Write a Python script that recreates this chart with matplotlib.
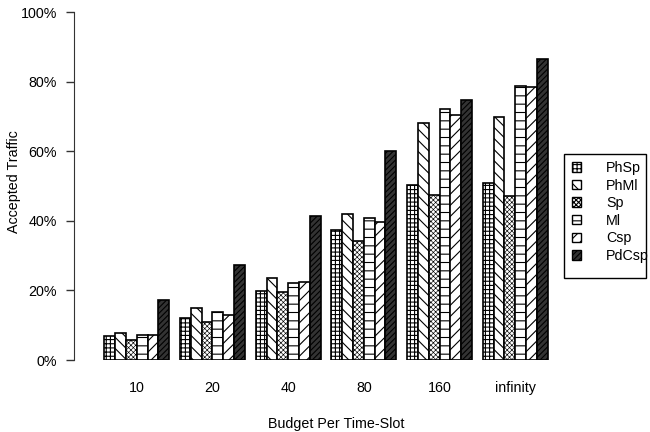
import numpy as np
import matplotlib.pyplot as plt
from matplotlib.patches import Patch, Rectangle

plt.rcParams['font.family'] = ['Liberation Sans', 'DejaVu Sans']
plt.rcParams['hatch.linewidth'] = 0.8

# Data (fraction of traffic accepted)
budgets = ['10', '20', '40', '80', '160', 'infinity']
schemes = ['PhSp', 'PhMl', 'Sp', 'Ml', 'Csp', 'PdCsp']
phsp = [0.070, 0.121, 0.198, 0.374, 0.503, 0.508]
phml = [0.078, 0.149, 0.235, 0.420, 0.682, 0.699]
sp = [0.057, 0.109, 0.194, 0.343, 0.474, 0.472]
ml = [0.073, 0.138, 0.220, 0.408, 0.720, 0.786]
csp = [0.072, 0.129, 0.225, 0.396, 0.705, 0.784]
pdcsp = [0.172, 0.273, 0.413, 0.600, 0.748, 0.866]

series = [phsp, phml, sp, ml, csp, pdcsp]
hatches = ['++++', '\\\\\\', 'xxxxxxx', '--', '///', '//////']
faces = ['white', 'white', 'white', 'white', 'white', '#333333']
hatch_lw = [0.8, 0.8, 0.45, 0.8, 0.8, 0.8]
fs = 10.3

fig = plt.figure(figsize=(6.5, 4.32), dpi=100)
ax = fig.add_axes([74 / 650, 72 / 432, 504 / 650, 348 / 432])

groups = np.arange(len(budgets)) * 7
for i, vals in enumerate(series):
    with plt.rc_context({'hatch.linewidth': hatch_lw[i]}):
        ax.bar(groups + i, vals, width=1, align='edge', facecolor=faces[i],
               edgecolor='black', hatch=hatches[i], linewidth=1.2)

ax.set_xlim(-2.8, 43.8)
ax.set_ylim(0, 1)
ax.set_yticks(np.linspace(0, 1, 6))
ax.set_yticklabels(['0%', '20%', '40%', '60%', '80%', '100%'])
ax.set_xticks(groups + 3)
ax.set_xticklabels(budgets)
ax.tick_params(axis='x', length=0, pad=15, labelsize=fs)
ax.tick_params(axis='y', length=5.8, width=1, color='#333333', pad=6.5, labelsize=fs)
for s in ['top', 'right', 'bottom']:
    ax.spines[s].set_visible(False)
ax.spines['left'].set_color('#333333')

ax.set_xlabel('Budget Per Time-Slot', fontsize=fs, va='top')
ax.xaxis.set_label_coords(0.5208, -0.1638)
ax.set_ylabel('Accepted Traffic', fontsize=fs)
ax.yaxis.set_label_coords(-0.105, 0.513)

# legend: frame drawn by hand, entries without frame
fig.patches.append(Rectangle((564 / 650, 1 - 278 / 432), 82 / 650, 124 / 432,
                             transform=fig.transFigure, fill=False,
                             edgecolor='black', linewidth=1.0))
handles = []
for i in range(len(schemes)):
    with plt.rc_context({'hatch.linewidth': hatch_lw[i]}):
        handles.append(Patch(facecolor=faces[i], edgecolor='black',
                             hatch=hatches[i], linewidth=1.0))
leg = fig.legend(handles, schemes, loc='upper left', bbox_to_anchor=(572 / 650, 1 - 161 / 432),
                 frameon=False, fontsize=fs,
                 handlelength=0.65, handleheight=0.65, handletextpad=1.75,
                 labelspacing=0.25, borderpad=0, borderaxespad=0)

fig.savefig('out.png', dpi=100)
